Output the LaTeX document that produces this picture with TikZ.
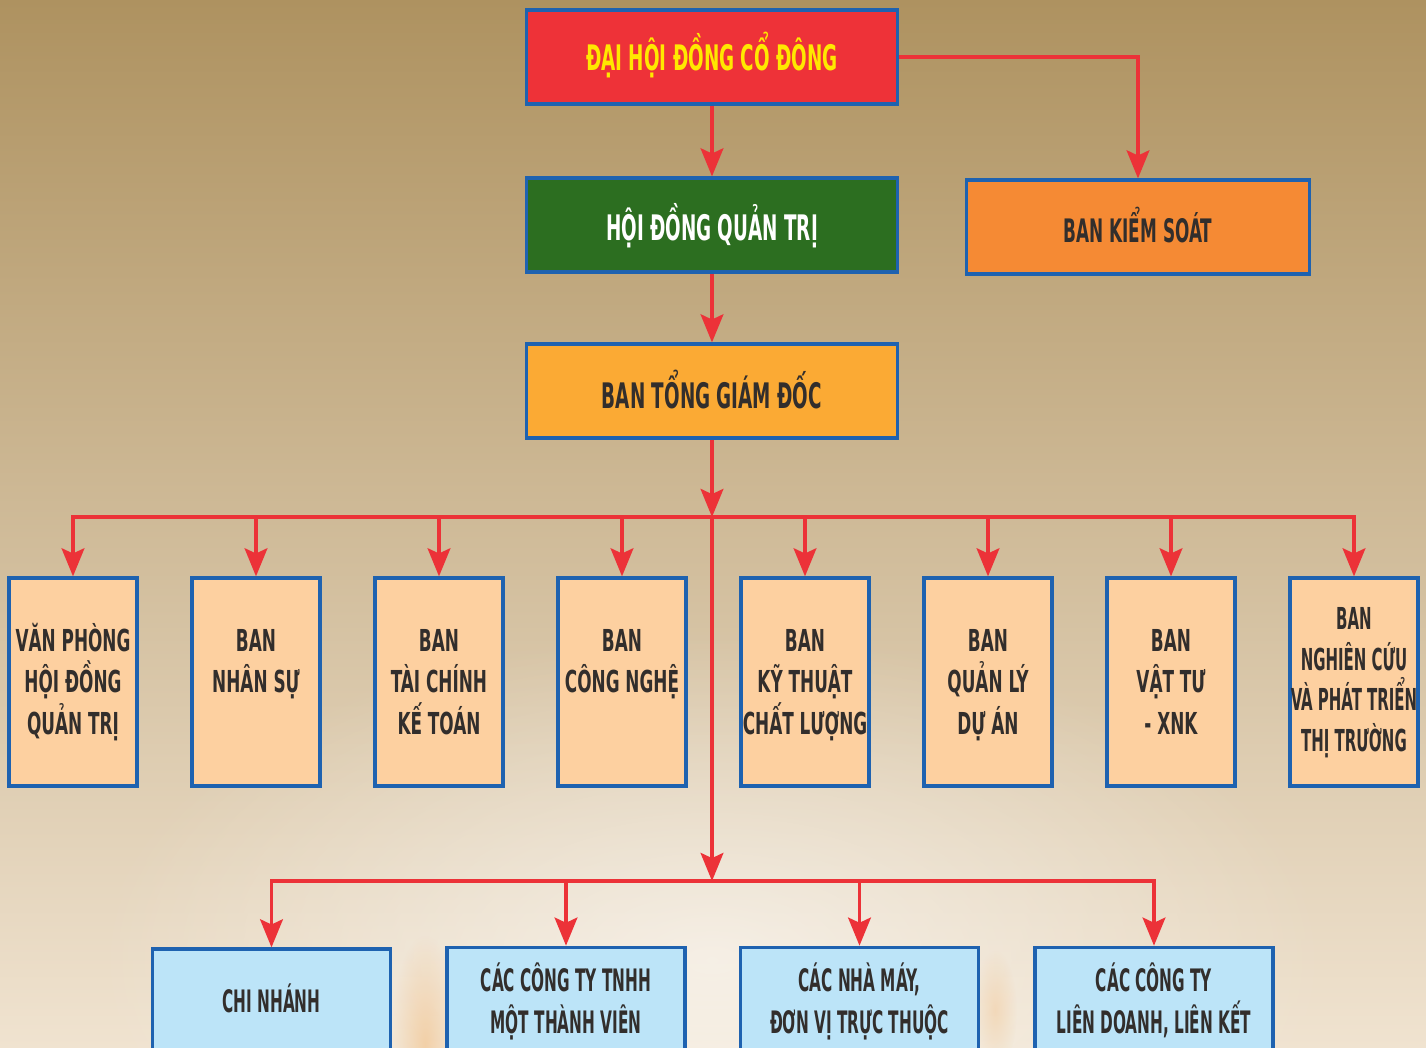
\documentclass[tikz,border=0pt]{standalone}
\usepackage{fontspec}
\newfontfamily\orgfont{DejaVu Sans Condensed Bold}[FakeStretch=0.62]
\newfontfamily\topfont{DejaVu Sans Condensed Bold}[FakeStretch=0.58]
\newfontfamily\unitfont{DejaVu Sans Condensed Bold}[FakeStretch=0.55]
\usepackage{xcolor}
\usetikzlibrary{arrows.meta, fadings}

\definecolor{bgtop}{RGB}{174,146,96}
\definecolor{bgmid}{RGB}{212,192,150}
\definecolor{bgbot}{RGB}{240,227,208}
\definecolor{glowwarm}{RGB}{242,170,90}
\definecolor{linered}{RGB}{236,50,56}
\definecolor{edgeblue}{RGB}{30,98,176}
\definecolor{dhred}{RGB}{238,50,56}
\definecolor{hdgreen}{RGB}{44,110,32}
\definecolor{bksorange}{RGB}{245,138,52}
\definecolor{tgdamber}{RGB}{251,170,52}
\definecolor{deptpeach}{RGB}{253,208,160}
\definecolor{unitblue}{RGB}{188,228,248}
\definecolor{textdark}{RGB}{50,46,44}
\definecolor{textyellow}{RGB}{255,232,0}

\tikzfading[name=glowout, inner color=transparent!0, outer color=transparent!100]

% strut: \lift above the (last) baseline, 0.32em below it
\newcommand\lift{1.05em}
\newcommand\boxstrut{\rule[-0.32em]{0pt}{\dimexpr\lift+0.32em\relax}}

\begin{document}
\begin{tikzpicture}[x=0.01cm, y=-0.01cm]
    \tikzstyle{base} = [rectangle, draw=edgeblue, line width=0.9pt, text centered, align=center, inner xsep=0pt, execute at begin node=\boxstrut]
    \tikzstyle{topbox} = [base, minimum width=3.71cm, minimum height=0.94cm, font=\topfont\fontsize{10}{12}\selectfont]
    \tikzstyle{dept} = [base, fill=deptpeach, text=textdark, minimum width=1.28cm, minimum height=2.08cm, font=\def\lift{32.4pt}\orgfont\fontsize{8.6}{11.7}\selectfont]
    \tikzstyle{unit} = [base, fill=unitblue, text=textdark, minimum width=2.38cm, minimum height=1.04cm, font=\def\lift{21.1pt}\unitfont\fontsize{8.8}{11.9}\selectfont]
    \tikzstyle{line} = [draw=linered, line width=0.9pt]
    \tikzstyle{arrow} = [line, -{Stealth[length=8pt, width=6.5pt, inset=1.5pt]}]

    \useasboundingbox (0,0) rectangle (1426,1048);
    \clip (0,0) rectangle (1426,1048);
    \shade [top color=bgtop, middle color=bgmid, bottom color=bgbot] (0,0) rectangle (1426,1048);
    \fill [white, fill opacity=0.55, path fading=glowout] (712,960) ellipse (620 and 330);
    \fill [glowwarm, fill opacity=0.4, path fading=glowout] (425,1045) ellipse (35 and 110);
    \fill [glowwarm, fill opacity=0.25, path fading=glowout] (995,1010) ellipse (22 and 60);

    \node (dhdcd) [topbox, fill=dhred, text=textyellow] at (712,57) {ĐẠI HỘI ĐỒNG CỔ ĐÔNG};
    \node (hdqt) [topbox, fill=hdgreen, text=white, font=\def\lift{1.22em}\topfont\fontsize{10}{12}\selectfont] at (712,225) {HỘI ĐỒNG QUẢN TRỊ};
    \node (tgd) [topbox, fill=tgdamber, text=textdark, font=\def\lift{1.33em}\topfont\fontsize{10}{12}\selectfont] at (712,391) {BAN TỔNG GIÁM ĐỐC};
    \node (bks) [topbox, fill=bksorange, text=textdark, minimum width=3.42cm, font=\def\lift{1.30em}\topfont\fontsize{9.2}{12}\selectfont] at (1138,227) {BAN KIỂM SOÁT};

    \node (vp) [dept] at (73,682) {VĂN PHÒNG\\HỘI ĐỒNG\\QUẢN TRỊ};
    \node (ns) [dept] at (256,682) {BAN\\NHÂN SỰ\\~};
    \node (tc) [dept] at (439,682) {BAN\\TÀI CHÍNH\\KẾ TOÁN};
    \node (cn) [dept] at (622,682) {BAN\\CÔNG NGHỆ\\~};
    \node (kt) [dept] at (805,682) {BAN\\KỸ THUẬT\\CHẤT LƯỢNG};
    \node (ql) [dept] at (988,682) {BAN\\QUẢN LÝ\\DỰ ÁN};
    \node (vt) [dept] at (1171,682) {BAN\\VẬT TƯ\\- XNK};
    \node (nc) [dept, font=\def\lift{42.1pt}\unitfont\fontsize{8.6}{11.5}\selectfont] at (1354,682) {BAN\\NGHIÊN CỨU\\VÀ PHÁT TRIỂN\\THỊ TRƯỜNG};

    \node (chn) [unit, font=\unitfont\fontsize{8.8}{11.9}\selectfont] at (271.5,1001) {CHI NHÁNH};
    \node (tnhh) [unit] at (566,1001) {CÁC CÔNG TY TNHH\\MỘT THÀNH VIÊN};
    \node (nm) [unit] at (859.5,1001) {CÁC NHÀ MÁY,\\ĐƠN VỊ TRỰC THUỘC};
    \node (ldlk) [unit] at (1154,1001) {CÁC CÔNG TY\\LIÊN DOANH, LIÊN KẾT};

    \coordinate (bus1) at (712,517);
    \coordinate (bus2) at (712,881);

    \draw [arrow] (dhdcd) -- (hdqt);
    \draw [arrow] (hdqt) -- (tgd);
    \draw [arrow] (dhdcd.east) -| (bks.north);
    \draw [arrow] (tgd) -- (bus1);

    % ban chuyen mon
    \draw [line, line cap=rect] (vp.north |- bus1) -- (nc.north |- bus1);
    \draw [arrow] (vp.north |- bus1) -- (vp.north);
    \draw [arrow] (ns.north |- bus1) -- (ns.north);
    \draw [arrow] (tc.north |- bus1) -- (tc.north);
    \draw [arrow] (cn.north |- bus1) -- (cn.north);
    \draw [arrow] (kt.north |- bus1) -- (kt.north);
    \draw [arrow] (ql.north |- bus1) -- (ql.north);
    \draw [arrow] (vt.north |- bus1) -- (vt.north);
    \draw [arrow] (nc.north |- bus1) -- (nc.north);

    % don vi truc thuoc
    \draw [arrow] (bus1) -- (bus2);
    \draw [line, line width=1.1pt, line cap=rect] (chn.north |- bus2) -- (ldlk.north |- bus2);
    \draw [arrow] (chn.north |- bus2) -- (chn.north);
    \draw [arrow] (tnhh.north |- bus2) -- (tnhh.north);
    \draw [arrow] (nm.north |- bus2) -- (nm.north);
    \draw [arrow] (ldlk.north |- bus2) -- (ldlk.north);
\end{tikzpicture}
\end{document}
